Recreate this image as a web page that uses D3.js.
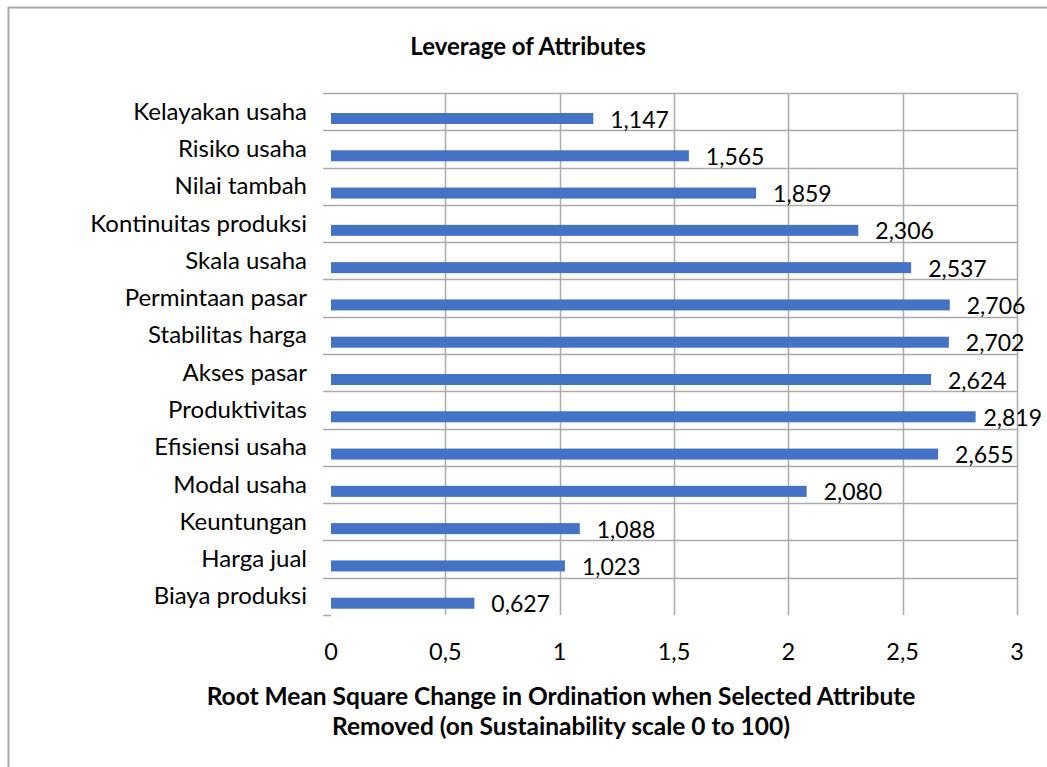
<!DOCTYPE html>
<meta charset="utf-8">
<style>
  body { margin: 0; background: #fff; font-family: 'Lato', sans-serif; }
  svg text { fill: #000; }
</style>
<svg width="1047" height="767"></svg>
<script src="https://cdnjs.cloudflare.com/ajax/libs/d3/7.8.5/d3.min.js"></script>
<script>

// data, top to bottom as drawn
var attributes = ["Kelayakan usaha", "Risiko usaha", "Nilai tambah", "Kontinuitas produksi",
  "Skala usaha", "Permintaan pasar", "Stabilitas harga", "Akses pasar", "Produktivitas",
  "Efisiensi usaha", "Modal usaha", "Keuntungan", "Harga jual", "Biaya produksi"];
var rmsValues = [1.147, 1.565, 1.859, 2.306, 2.537, 2.706, 2.702, 2.624, 2.819, 2.655,
  2.080, 1.088, 1.023, 0.627];
var xTicks = [0, 0.5, 1, 1.5, 2, 2.5, 3];

var svg = d3.select("svg"),
    width = +svg.attr("width"),
    height = +svg.attr("height");

var plotLeft = 331, plotRight = 1017, plotTop = 93, plotBottom = 615;
var gridColor = "#ababab";
var fmt = function(v) { return d3.format(".3f")(v).replace(".", ","); };
var fmtTick = function(v) { return String(v).replace(".", ","); };

// outer frame
svg.append("rect")
    .attr("x", 8.5).attr("y", 7.5)
    .attr("width", width + 20).attr("height", height + 20)
    .style("fill", "none")
    .style("stroke", "#a9a9a9")
    .style("stroke-width", 2);

var x = d3.scaleLinear().domain([0, 3]).range([plotLeft, plotRight]);
var y = d3.scaleBand().domain(attributes).range([plotTop, plotBottom]).padding(0);

// vertical gridlines
svg.append("g").selectAll("line")
    .data(xTicks.filter(function(d) { return d > 0; }))
    .enter().append("line")
    .attr("x1", function(d) { return Math.round(x(d)) + 0.5; })
    .attr("x2", function(d) { return Math.round(x(d)) + 0.5; })
    .attr("y1", plotTop).attr("y2", plotBottom)
    .style("stroke", gridColor).style("stroke-width", 1.5);

// horizontal gridlines at category boundaries
svg.append("g").selectAll("line")
    .data(attributes)
    .enter().append("line")
    .attr("x1", plotLeft - 8).attr("x2", plotRight)
    .attr("y1", function(d) { return Math.round(y(d)) + 0.5; })
    .attr("y2", function(d) { return Math.round(y(d)) + 0.5; })
    .style("stroke", gridColor).style("stroke-width", 1.5);

// small tick at the bottom of the category axis
svg.append("line")
    .attr("x1", plotLeft - 8).attr("x2", plotLeft)
    .attr("y1", plotBottom + 0.5).attr("y2", plotBottom + 0.5)
    .style("stroke", gridColor).style("stroke-width", 1.5);

// bars
var barOffset = 20, barHeight = 11;
svg.append("g").selectAll("rect")
    .data(rmsValues)
    .enter().append("rect")
    .attr("x", x(0))
    .attr("y", function(d, i) { return y(attributes[i]) + barOffset; })
    .attr("width", function(d) { return x(d) - x(0); })
    .attr("height", barHeight)
    .style("fill", "#4472c4");

// data labels (pushed back inside the frame when they would run off, like excel does)
svg.append("g").selectAll("text")
    .data(rmsValues)
    .enter().append("text")
    .attr("y", function(d, i) { return y(attributes[i]) + barOffset + barHeight / 2 + 9; })
    .style("font-size", "23px")
    .text(fmt)
    .attr("x", function(d) {
      var w = this.getComputedTextLength();
      return Math.min(x(d) + 17, 1042 - w);
    });

// category labels
svg.append("g").selectAll("text")
    .data(attributes)
    .enter().append("text")
    .attr("x", 307)
    .attr("y", function(d) { return y(d) + y.bandwidth() / 2 + 8; })
    .attr("text-anchor", "end")
    .style("font-size", "24px")
    .text(function(d) { return d; });

// x tick labels
svg.append("g").selectAll("text")
    .data(xTicks)
    .enter().append("text")
    .attr("x", function(d) { return x(d); })
    .attr("y", 660)
    .attr("text-anchor", "middle")
    .style("font-size", "23.5px")
    .text(fmtTick);

// title
svg.append("text")
    .attr("x", 528).attr("y", 55)
    .attr("text-anchor", "middle")
    .style("font-size", "24px").style("font-weight", "bold")
    .text("Leverage of Attributes");

// axis title
var axisTitle = svg.append("text")
    .attr("text-anchor", "middle")
    .style("font-size", "24.5px").style("font-weight", "bold");
axisTitle.append("tspan").attr("x", 561).attr("y", 705)
    .text("Root Mean Square Change in Ordination when Selected Attribute");
axisTitle.append("tspan").attr("x", 561).attr("y", 735)
    .text("Removed (on Sustainability scale 0 to 100)");

</script>
